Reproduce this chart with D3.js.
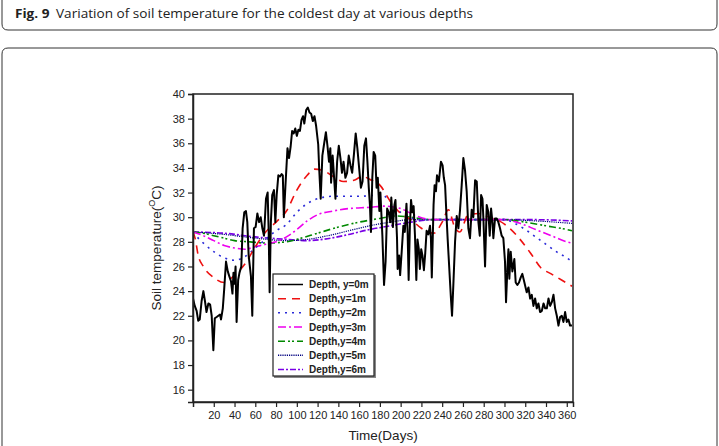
<!DOCTYPE html>
<html><head><meta charset="utf-8">
<script src="https://cdn.jsdelivr.net/npm/d3@7"></script>
<style>body{margin:0;background:#fff}svg{display:block}</style>
</head><body>
<svg id="c" width="719" height="446"></svg>
<script>
// ---- data ----
const xTicks = [20,40,60,80,100,120,140,160,180,200,220,240,260,280,300,320,340,360];
const yTicks = [16,18,20,22,24,26,28,30,32,34,36,38,40];
const legendLabels = ["Depth, y=0m","Depth,y=1m","Depth,y=2m","Depth,y=3m","Depth,y=4m","Depth,y=5m","Depth,y=6m"];

// surface (y=0m) : [day, temperature]
const depth0m = [
[0,23.4],[1.7,22.8],[3.5,22.4],[5,21.6],[6.5,21.7],[8.3,23.2],[10,24.0],[11.5,23.2],[13,22.3],[14.8,23.0],[16.5,22.9],[18,22.0],[19.6,19.2],[21,21.8],[22.8,21.9],[24.4,22.0],[26,22.1],[27,21.7],[28.7,22.6],[30,24.1],[31.8,26.4],[33.5,25.6],[35,25.2],[36.6,24.8],[38,23.8],[39,25.5],[40,24.6],[41,26.0],[42,21.5],[43.5,24.9],[44.8,25.5],[46.5,26.0],[47.8,29.1],[49.4,30.4],[51,30.5],[52.3,29.6],[53.6,26.9],[55.8,25.2],[57.1,22.0],[58.7,29.1],[60.3,29.2],[62,30.3],[63.6,29.6],[65.2,30.0],[66.8,29.1],[68.4,28.5],[70.3,31.5],[71.9,32.0],[72.9,28.8],[73.8,23.9],[75,29.6],[76.3,31.8],[78,32.2],[79.3,29.6],[80.6,31.8],[82.2,33.4],[83.8,33.3],[85.4,33.5],[86.5,33.4],[87.5,30.0],[89,32.5],[91,35.6],[92.5,34.8],[94,35.7],[95.5,37.0],[97,36.8],[98.5,37.2],[100,36.6],[101.5,37.1],[103,37.0],[104.5,37.9],[106,38.2],[107.2,37.6],[109,38.7],[110.6,38.9],[112.2,38.5],[113.8,38.4],[115.4,37.8],[117,38.2],[118.6,37.4],[120.6,35.9],[121.5,34.0],[123,31.5],[124.6,35.0],[126,35.8],[128,36.9],[129.5,35.8],[131,34.5],[132.3,35.6],[133,32.8],[134.5,35.0],[135.6,33.6],[137.2,31.5],[138.8,34.5],[140.4,35.8],[142,34.8],[143.5,33.6],[145,34.5],[146.8,33.2],[148.4,33.6],[150,35.0],[151.7,34.2],[153.3,33.6],[155,35.1],[156.7,36.8],[158.3,35.6],[160,34.0],[161.7,32.4],[163.3,32.9],[165,35.8],[166.6,36.4],[168,34.5],[169.3,32.4],[170.4,31.0],[171.4,28.8],[172.7,33.2],[174,35.3],[175.5,35.0],[176.8,32.4],[178,33.2],[179.5,30.5],[180.5,32.0],[182.4,28.5],[184,24.5],[185.5,26.4],[187,30.7],[188.5,30.4],[190,29.6],[191,31.6],[192.5,29.2],[194,31.0],[195,31.4],[196.5,28.3],[197.1,25.8],[198.5,26.9],[199.5,25.3],[201,27.2],[202.6,29.3],[204,28.8],[205.6,31.1],[206.7,28.8],[207.7,24.9],[208.9,29.3],[210,31.4],[211.3,30.4],[212.5,30.9],[213.8,28.5],[215.1,24.9],[216.2,28.2],[217.5,27.4],[218.5,25.8],[219.8,27.4],[221,26.9],[222.4,25.7],[223.7,27.1],[225,28.9],[226.6,28.6],[228.3,29.3],[229.2,28.2],[230,25.1],[231.7,31.0],[232.7,32.6],[234,32.1],[235,33.4],[236.8,32.9],[238.8,34.5],[240.4,34.2],[241.6,33.2],[242.8,32.6],[244,30.4],[245.3,28.2],[248.3,23.6],[249.5,22.0],[250.8,24.6],[252.4,28.0],[254,30.1],[255.6,29.1],[257.2,30.6],[258.8,32.6],[260.4,34.8],[262,33.8],[263.6,32.1],[265.2,29.1],[266.8,28.3],[268.4,30.6],[270,30.0],[271.7,33.0],[273.3,32.9],[274.9,29.6],[276.2,28.5],[277.5,31.8],[278.8,31.5],[279.7,29.9],[281.3,26.0],[282.9,31.0],[284.5,30.4],[285.8,28.5],[287.1,30.7],[288.4,29.6],[289.3,28.3],[290.9,29.9],[292.5,29.9],[294.1,29.6],[295.7,29.1],[297.3,28.5],[298.9,28.3],[300.5,26.4],[301.5,23.1],[302.8,25.8],[303.8,27.4],[304.7,25.0],[306,27.2],[307.6,25.6],[309.5,26.6],[310.8,24.7],[312.4,24.5],[314,24.7],[315.6,25.1],[317.2,25.4],[319.2,24.7],[321.4,23.9],[323.1,24.3],[324.7,23.4],[326.3,23.7],[327.9,22.8],[329.5,23.4],[331.1,22.6],[332.7,23.0],[334.3,22.3],[336,22.4],[337.6,23.0],[339.2,22.6],[340.8,22.6],[342.4,23.4],[344,22.8],[345.6,23.1],[347.2,23.7],[348.8,22.6],[350.4,22.0],[352,21.2],[353.6,21.9],[355.2,22.0],[356.8,21.5],[358.4,22.3],[360,21.5],[361.6,21.7],[363.2,21.2],[365,21.2]
];
const depth1m = [[0,28.8],[2,28.3],[5,26.9],[10,26.0],[20,25.1],[30,24.7],[40,25.3],[50,26.2],[60,27.6],[70,28.8],[80,29.6],[90,30.5],[100,32.2],[110,33.4],[117,33.9],[125,33.8],[135,33.3],[145,32.9],[155,33.0],[163,33.3],[172,33.0],[180,32.6],[190,31.3],[200,30.3],[210,29.8],[220,29.1],[232,28.7],[240,29.6],[246,30.6],[252,29.2],[257,28.8],[265,30.2],[275,30.3],[285,30.0],[295,29.7],[305,29.1],[315,28.2],[325,27.1],[335,25.9],[345,25.4],[355,24.9],[365,24.4]];
const depth2m = [[0,28.8],[5,28.3],[10,27.9],[20,27.2],[30,26.7],[40,26.5],[50,26.8],[60,27.5],[70,28.2],[80,28.9],[90,29.4],[100,30.4],[110,31.1],[120,31.5],[135,31.7],[160,31.7],[180,31.8],[188,31.5],[195,30.8],[205,30.1],[220,29.8],[300,29.8],[310,29.5],[320,29.0],[330,28.4],[340,27.8],[350,27.2],[360,26.7],[365,26.4]];
const depth3m = [[0,28.8],[10,28.5],[20,28.1],[30,27.7],[40,27.5],[50,27.4],[60,27.6],[70,27.8],[80,28.0],[90,28.4],[100,29.0],[110,29.7],[120,30.2],[135,30.5],[150,30.7],[170,30.8],[185,30.9],[200,30.7],[215,30.1],[230,29.8],[300,29.8],[315,29.5],[330,29.0],[345,28.5],[360,28.0],[365,27.9]];
const depth4m = [[0,28.8],[10,28.7],[20,28.5],[30,28.3],[40,28.1],[55,28.0],[70,27.9],[90,28.0],[100,28.2],[120,28.7],[140,29.2],[160,29.6],[180,29.9],[195,30.1],[210,30.0],[230,29.8],[300,29.8],[320,29.6],[340,29.3],[360,29.0],[365,28.9]];
const depth5m = [[0,28.8],[30,28.6],[60,28.3],[90,28.1],[110,28.2],[130,28.5],[150,28.9],[170,29.3],[190,29.6],[210,29.8],[300,29.8],[330,29.7],[365,29.5]];
const depth6m = [[0,28.8],[30,28.7],[60,28.4],[90,28.2],[110,28.1],[125,28.2],[150,28.6],[170,29.0],[190,29.3],[210,29.6],[230,29.8],[300,29.8],[330,29.8],[365,29.7]];

// ---- layout ----
const svg = d3.select("#c");
const L = 193, R = 573, T = 94, B = 402;
const x = d3.scaleLinear().domain([0,366]).range([L,R]);
const y = d3.scaleLinear().domain([15,40]).range([B,T]);
const font = "Liberation Sans, Arial, sans-serif";

// caption box + outer panel
svg.append("path").attr("d","M2,-5 L2,24 Q2,30 8,30 L711,30 Q717,30 717,24 L717,-5")
  .attr("fill","none").attr("stroke","#333").attr("stroke-width",1);
svg.append("path").attr("d","M2,452 L2,54 Q2,48 8,48 L711,48 Q717,48 717,54 L717,452")
  .attr("fill","none").attr("stroke","#333").attr("stroke-width",1);
const cap = svg.append("text").attr("x",15).attr("y",17.5).attr("font-family","Open Sans, Noto Sans, sans-serif")
  .attr("font-size",12.5).attr("fill","#222")
  .attr("textLength",458).attr("lengthAdjust","spacingAndGlyphs");
cap.append("tspan").attr("font-weight","bold").text("Fig. 9");
cap.append("tspan").attr("dx",6).text("Variation of soil temperature for the coldest day at various depths");

const series = [
  {d:depth0m, c:"#000", w:2, dash:null},
  {d:depth1m, c:"#ee1111", w:1.6, dash:"8,6"},
  {d:depth2m, c:"#2a2ad8", w:1.6, dash:"2,5"},
  {d:depth3m, c:"#ee00ee", w:1.6, dash:"8,3,2,3"},
  {d:depth4m, c:"#008800", w:1.6, dash:"7,3,2,2,2,3"},
  {d:depth5m, c:"#000080", w:1.2, dash:"1.2,1"},
  {d:depth6m, c:"#7a00e6", w:1.6, dash:"6,2,2,2"}
];

const g = svg.append("g");
svg.append("clipPath").attr("id","pc").append("rect")
  .attr("x",L).attr("y",T).attr("width",R-L).attr("height",B-T);
const plotG = g.append("g").attr("clip-path","url(#pc)");
series.slice(1).reverse().forEach(s => {
  const line = d3.line().x(d=>x(d[0])).y(d=>y(d[1])).curve(d3.curveMonotoneX);
  plotG.append("path").datum(s.d).attr("d",line)
    .attr("fill","none").attr("stroke",s.c).attr("stroke-width",s.w)
    .attr("stroke-dasharray",s.dash).attr("stroke-linejoin","round");
});
plotG.append("path").datum(depth0m).attr("d",d3.line().x(d=>x(d[0])).y(d=>y(d[1])))
  .attr("fill","none").attr("stroke","#000").attr("stroke-width",2).attr("stroke-linejoin","round");

// frame
g.append("rect").attr("x",L).attr("y",T).attr("width",R-L).attr("height",B-T)
  .attr("fill","none").attr("stroke","#222").attr("stroke-width",1.5);

// axes
const xAxis = d3.axisBottom(x).tickValues(xTicks).tickSize(5).tickPadding(4);
const gx = svg.append("g").attr("transform",`translate(0,${B})`).call(xAxis);
const yAxis = d3.axisLeft(y).tickValues(yTicks).tickSize(5).tickPadding(3);
const gy = svg.append("g").attr("transform",`translate(${L},0)`).call(yAxis);
[gx,gy].forEach(a=>{
  a.select(".domain").attr("stroke","#222").attr("stroke-width",1.5);
  a.selectAll(".tick line").attr("stroke","#222").attr("stroke-width",1.2);
  a.selectAll(".tick text").attr("font-family",font).attr("font-size",11).attr("fill","#222");
});

// axis titles
svg.append("text").attr("x",(L+R)/2).attr("y",440).attr("text-anchor","middle")
  .attr("font-family",font).attr("font-size",13.5).attr("fill","#222").text("Time(Days)");
const yl = svg.append("text").attr("transform",`translate(161,${(T+B)/2}) rotate(-90)`)
  .attr("text-anchor","middle").attr("font-family",font).attr("font-size",13.5).attr("fill","#222");
yl.append("tspan").text("Soil temperature(");
yl.append("tspan").attr("font-size",9).attr("dy",-6).text("O");
yl.append("tspan").attr("dy",6).text("C)");

// legend
const lg = svg.append("g");
lg.append("rect").attr("x",274).attr("y",275).attr("width",102).attr("height",103)
  .attr("fill","#888");
lg.append("rect").attr("x",273).attr("y",274).attr("width",101).attr("height",102)
  .attr("fill","#fff").attr("stroke","#222").attr("stroke-width",1.2);
const rowY = d3.scalePoint().domain(legendLabels).range([284.5,369.5]);
legendLabels.forEach((lab,i)=>{
  const s = series[i], yy = rowY(lab);
  lg.append("line").attr("x1",278).attr("x2",303).attr("y1",yy).attr("y2",yy)
    .attr("stroke",s.c).attr("stroke-width",1.5).attr("stroke-dasharray",s.dash);
  lg.append("text").attr("x",309).attr("y",yy+3.5).attr("font-family",font)
    .attr("font-weight","bold").attr("font-size",10).attr("fill","#222").text(lab);
});
</script>
</body></html>
